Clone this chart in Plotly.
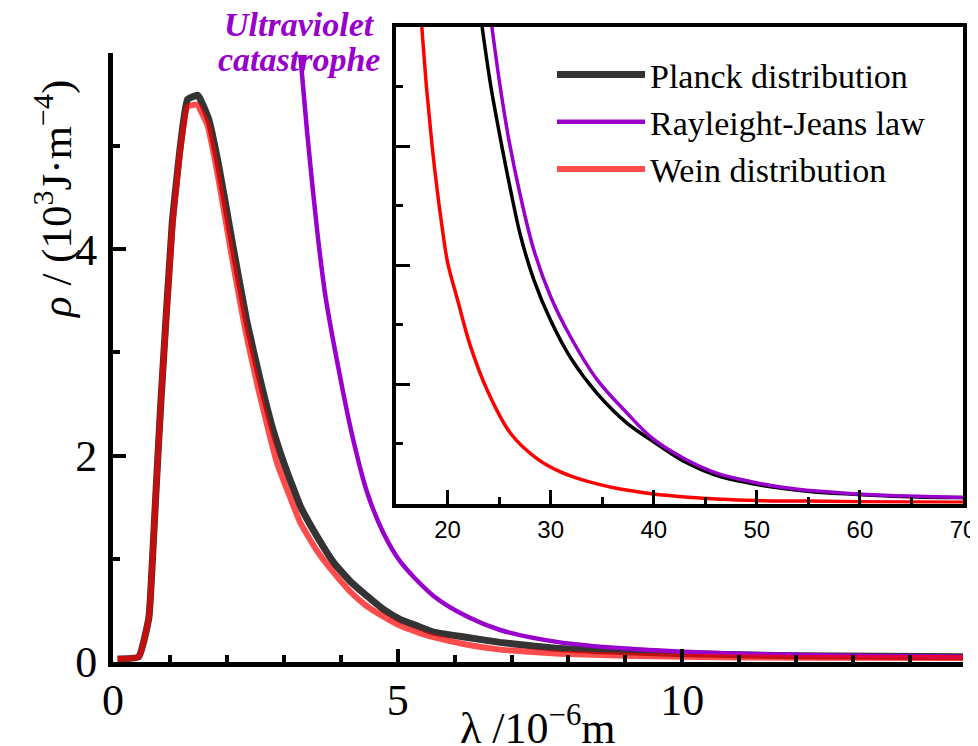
import plotly.graph_objects as go

# ---------------- main plot data (lambda in 1e-6 m, rho in 1e3 J m^-4) ----------------
lam_planck = [0.08, 0.45, 0.63, 0.69, 0.75, 0.84, 1.04, 1.19, 1.31, 1.49, 1.68, 1.86, 2.10, 2.35,
              2.60, 2.80, 3.00, 3.29, 3.58, 3.88, 4.17, 4.46, 4.75, 5.05, 5.34, 5.63, 6.20, 6.80,
              7.30, 7.85, 8.40, 9.0, 10.0, 12.0, 15.0]
rho_planck = [0.03, 0.05, 0.43, 0.96, 1.60, 2.51, 4.25, 5.03, 5.45, 5.49, 5.26, 4.80, 4.05, 3.30,
              2.70, 2.27, 1.93, 1.51, 1.22, 0.96, 0.78, 0.64, 0.51, 0.41, 0.35, 0.29, 0.24, 0.19,
              0.16, 0.13, 0.115, 0.10, 0.08, 0.06, 0.05]

lam_rj = [3.29, 3.41, 3.59, 3.73, 3.99, 4.20, 4.46, 4.75, 5.05, 5.63, 6.22, 6.80, 7.85, 9.0,
          10.0, 11.0, 12.0, 13.0, 15.0]
rho_rj = [5.88, 5.13, 4.16, 3.55, 2.76, 2.20, 1.65, 1.25, 0.97, 0.64, 0.44, 0.31, 0.19, 0.13,
          0.10, 0.08, 0.07, 0.06, 0.05]

lam_wien = [0.08, 0.45, 0.63, 0.69, 0.75, 0.84, 1.04, 1.19, 1.31, 1.47, 1.66, 1.84, 2.08, 2.33,
            2.55, 2.75, 2.88, 3.29, 3.58, 3.87, 4.17, 4.46, 4.75, 5.05, 5.34, 5.63, 6.20, 6.80,
            7.30, 7.85, 8.40, 9.0, 10.0, 12.0, 15.0]
rho_wien = [0.03, 0.05, 0.43, 0.96, 1.60, 2.51, 4.20, 5.00, 5.38, 5.40, 5.20, 4.72, 3.95, 3.20,
            2.65, 2.20, 1.93, 1.35, 1.08, 0.87, 0.68, 0.54, 0.44, 0.35, 0.29, 0.24, 0.17, 0.12,
            0.10, 0.08, 0.07, 0.06, 0.05, 0.04, 0.04]

# ---------------- inset data (long-wavelength tail, arbitrary units) ----------------
in_lam_planck = [23.35, 24.2, 25.14, 26.1, 27.07, 28.36, 29.98, 31.92, 34.5, 37.4, 39.7, 42.9,
                 46.1, 49.35, 52.6, 55.8, 59.0, 62.3, 65.5, 70.0]
in_rho_planck = [8.0, 7.0, 6.11, 5.27, 4.5, 3.76, 3.08, 2.45, 1.85, 1.35, 1.07, 0.71,
                 0.47, 0.34, 0.25, 0.19, 0.16, 0.13, 0.11, 0.10]

in_lam_rj = [24.3, 25.1, 25.94, 27.07, 28.36, 29.98, 31.92, 34.5, 37.4, 39.7, 42.9, 46.1,
             49.35, 52.6, 55.8, 59.0, 62.3, 65.5, 70.0]
in_rho_rj = [8.0, 7.0, 6.11, 5.16, 4.26, 3.48, 2.8, 2.08, 1.52, 1.12, 0.76, 0.51,
             0.37, 0.27, 0.21, 0.17, 0.14, 0.12, 0.10]

in_lam_wien = [17.5, 18.0, 18.5, 19.0, 19.5, 20.0, 21.0, 22.2, 23.85, 26.1, 28.7, 30.95, 33.0,
               36.0, 40.0, 43.0, 46.5, 50.0, 55.0, 60.0, 70.0]
in_rho_wien = [8.0, 6.9, 6.0, 5.25, 4.6, 4.05, 3.4, 2.65, 1.9, 1.18, 0.75, 0.53, 0.40,
               0.27, 0.16, 0.11, 0.07, 0.05, 0.04, 0.03, 0.02]

names = ["Planck distribution", "Rayleight-Jeans law", "Wein distribution"]
PURPLE = "#9900cc"
SERIF = "Liberation Serif"
SANS = "Liberation Sans"

fig = go.Figure()

# main plot
fig.add_trace(go.Scatter(x=lam_planck, y=rho_planck, mode="lines", name=names[0],
                         line=dict(color="rgba(30,30,30,0.9)", width=7, shape="spline", smoothing=0.4),
                         xaxis="x", yaxis="y"))
fig.add_trace(go.Scatter(x=lam_rj, y=rho_rj, mode="lines", name=names[1],
                         line=dict(color=PURPLE, width=4.5, shape="spline", smoothing=0.8),
                         xaxis="x", yaxis="y"))
fig.add_trace(go.Scatter(x=lam_wien, y=rho_wien, mode="lines", name=names[2],
                         line=dict(color="rgba(255,0,0,0.7)", width=6, shape="spline", smoothing=0.4),
                         xaxis="x", yaxis="y"))

# inset
fig.add_trace(go.Scatter(x=in_lam_planck, y=in_rho_planck, mode="lines", showlegend=False,
                         line=dict(color="black", width=3.5, shape="spline", smoothing=1.0),
                         xaxis="x2", yaxis="y2"))
fig.add_trace(go.Scatter(x=in_lam_rj, y=in_rho_rj, mode="lines", showlegend=False,
                         line=dict(color=PURPLE, width=3.5, shape="spline", smoothing=1.0),
                         xaxis="x2", yaxis="y2"))
fig.add_trace(go.Scatter(x=in_lam_wien, y=in_rho_wien, mode="lines", showlegend=False,
                         line=dict(color="red", width=3.5, shape="spline", smoothing=1.0),
                         xaxis="x2", yaxis="y2"))

main_axis = dict(showline=True, linecolor="black", linewidth=5, ticks="inside",
                 ticklen=13, tickwidth=4, tickcolor="black", showgrid=False, zeroline=False,
                 automargin=False, tickfont=dict(family=SERIF, size=44, color="black"))

# plot area spans screen x 113..963 and y 27..662 (page body adds an 8 px offset)
PLOT_H = 635
def py(px):
    return (662 - px) / PLOT_H
def px_x(px):
    return (px - 113) / 850

fig.update_layout(
    width=970, height=738,
    margin=dict(l=105, r=15, t=19, b=84),
    paper_bgcolor="white", plot_bgcolor="white",
    xaxis=dict(**main_axis, domain=[0, 1], range=[0, 14.93], tick0=0, dtick=5,
               anchor="y", ticklabelstandoff=-5,
               minor=dict(dtick=1, ticks="inside", ticklen=7, tickwidth=4, tickcolor="black")),
    yaxis=dict(**main_axis, domain=[0, 0.959], range=[0, 5.9], tick0=0, dtick=2,
               anchor="x", ticklabelstandoff=2,
               minor=dict(dtick=1, ticks="inside", ticklen=7, tickwidth=4, tickcolor="black")),
    xaxis2=dict(domain=[0.333, 1.0], anchor="y2", range=[15, 70], tick0=0, dtick=10,
                showline=True, mirror=True, linecolor="black", linewidth=3.5,
                ticks="inside", ticklen=14, tickwidth=3, tickcolor="black", automargin=False,
                minor=dict(dtick=5, ticks="inside", ticklen=7, tickwidth=3, tickcolor="black"),
                showgrid=False, zeroline=False, ticklabelstandoff=2,
                tickfont=dict(family=SANS, size=24, color="black")),
    yaxis2=dict(domain=[0.2496, 1.0], anchor="x2", range=[0, 8], tick0=0, dtick=2,
                showline=True, mirror=True, linecolor="black", linewidth=3.5,
                ticks="inside", ticklen=14, tickwidth=3, tickcolor="black", automargin=False,
                minor=dict(dtick=1, ticks="inside", ticklen=7, tickwidth=3, tickcolor="black"),
                showgrid=False, zeroline=False, showticklabels=False),
    legend=dict(x=px_x(552), y=py(46), xanchor="left", yanchor="top", bgcolor="rgba(0,0,0,0)",
                font=dict(family=SERIF, size=34, color="black"), itemwidth=88),
    annotations=[
        dict(text="<b><i>Ultraviolet</i></b>", xref="paper", yref="paper",
             x=px_x(299), y=py(24), xanchor="center", yanchor="middle", showarrow=False,
             font=dict(family=SERIF, size=34, color=PURPLE)),
        dict(text="<b><i>catastrophe</i></b>", xref="paper", yref="paper",
             x=px_x(299), y=py(59), xanchor="center", yanchor="middle", showarrow=False,
             font=dict(family=SERIF, size=34, color=PURPLE)),
        dict(text="<i>ρ</i> / (10<sup>3</sup>J·m<sup>−4</sup>)", xref="paper", yref="paper",
             x=px_x(53), y=py(200), xanchor="center", yanchor="middle", showarrow=False,
             textangle=-90, font=dict(family=SERIF, size=43, color="black")),
        dict(text="λ /10<sup>−6</sup>m", xref="paper", yref="paper",
             x=px_x(538), y=py(725), xanchor="center", yanchor="middle", showarrow=False,
             font=dict(family=SERIF, size=44, color="black")),
    ],
)

fig.write_html("out.html")
